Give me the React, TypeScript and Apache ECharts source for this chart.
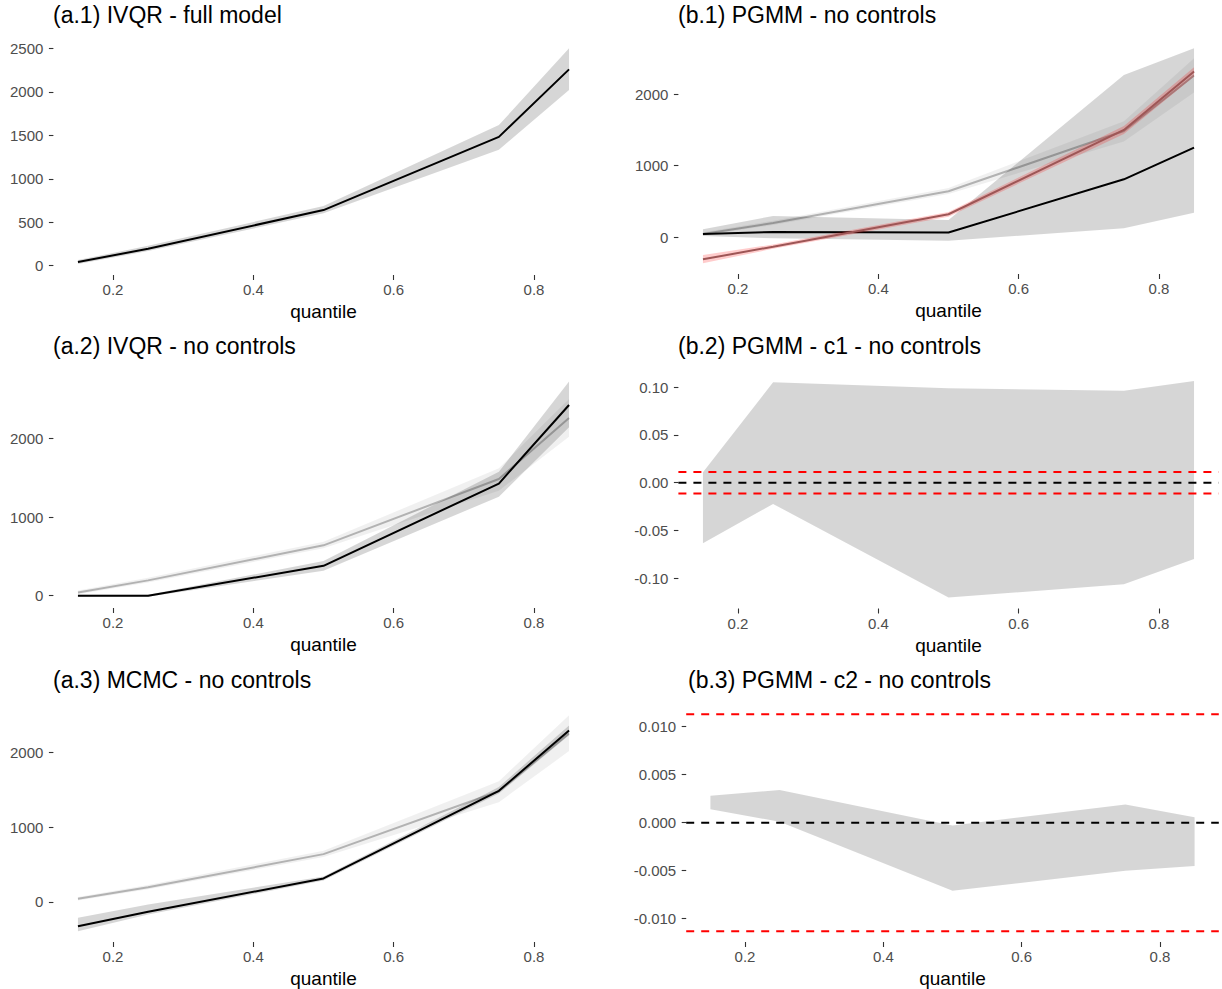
import React, { useEffect, useRef } from "react";
import * as echarts from "echarts";

// ---------------- data ----------------
const quantiles = [0.15, 0.25, 0.5, 0.75, 0.85];

// IVQR full model (also the grey reference in other panels)
const ivqrFullEst = [42, 195, 640, 1482, 2258];
const ivqrFullLo = [20, 168, 602, 1335, 2020];
const ivqrFullHi = [65, 228, 686, 1618, 2500];

// IVQR no controls
const ivqrNoCtrlEst = [0, 0, 380, 1425, 2423];
const ivqrNoCtrlLo = [-12, -12, 318, 1258, 2140];
const ivqrNoCtrlHi = [12, 12, 440, 1576, 2720];

// MCMC no controls
const mcmcEst = [-325, -133, 315, 1488, 2297];
const mcmcLo = [-392, -170, 288, 1453, 2231];
const mcmcHi = [-213, -36, 341, 1541, 2364];

// PGMM no controls
const pgmmEst = [42, 70, 62, 807, 1250];
const pgmmLo = [14, -18, -52, 122, 340];
const pgmmHi = [108, 294, 238, 2266, 2640];

// MCMC comparison shown in red in (b.1)
const redEst = [-312, -136, 318, 1498, 2314];
const redLo = [-368, -165, 284, 1442, 2244];
const redHi = [-252, -105, 350, 1554, 2375];

// PGMM c1 / c2 intervals
const c1Lo = [-0.0635, -0.0223, -0.1205, -0.1065, -0.08];
const c1Hi = [0.011, 0.1052, 0.0989, 0.0964, 0.1066];
const c2Lo = [0.0014, 0.0001, -0.0071, -0.005, -0.0045];
const c2Hi = [0.0028, 0.0034, -0.0003, 0.0019, 0.00056];

const zeroLine = 0;
const boundLines = [-0.0113, 0.0113];

// tick labels
const xTicks = [0.2, 0.4, 0.6, 0.8];
const yTicksA1 = [0, 500, 1000, 1500, 2000, 2500];
const yTicksK = [0, 1000, 2000];
const yTicksC1 = [-0.1, -0.05, 0, 0.05, 0.1];
const yTicksC2 = [-0.01, -0.005, 0, 0.005, 0.01];

const titles = [
  "(a.1) IVQR - full model",
  "(a.2) IVQR - no controls",
  "(a.3) MCMC - no controls",
  "(b.1) PGMM - no controls",
  "(b.2) PGMM - c1 - no controls",
  "(b.3) PGMM - c2 - no controls",
];

// ---------------- layout / style ----------------
const FONT = "'Liberation Sans', Arial, Helvetica, sans-serif";
const X_MIN = 0.115;
const X_MAX = 0.885;

const grids = [
  { left: 53.4, top: 38, width: 540.2, height: 237 },
  { left: 53.4, top: 370.9, width: 540.2, height: 237.1 },
  { left: 53.4, top: 702.9, width: 540.2, height: 239.6 },
  { left: 678.4, top: 37.6, width: 540.2, height: 236.4 },
  { left: 678.4, top: 370.2, width: 540.2, height: 238.3 },
  { left: 686.2, top: 703.4, width: 532.6, height: 238.6 },
];
const yRanges = [
  [-107, 2619],
  [-156, 2856],
  [-537, 2666],
  [-517.5, 2789],
  [-0.1319, 0.1179],
  [-0.012427, 0.012427],
];
const yTickSets = [yTicksA1, yTicksK, yTicksK, yTicksK, yTicksC1, yTicksC2];
const yDecimals = [0, 0, 0, 0, 2, 3];
const titlePos = [
  [53, 15],
  [53, 346],
  [53, 680],
  [678, 15],
  [678, 346],
  [688, 680],
];

const RIBBON = "rgba(0,0,0,0.16)";
const REF_RIBBON = "rgba(0,0,0,0.06)";
const REF_LINE = "rgba(0,0,0,0.26)";
const RED_RIBBON = "rgba(255,0,0,0.2)";
const RED_LINE = "#9e5656";

function ribbon(idx: number, lo: number[], hi: number[], color: string, z: number) {
  return {
    type: "custom",
    xAxisIndex: idx,
    yAxisIndex: idx,
    z,
    silent: true,
    data: quantiles.map((q, k) => [q, lo[k], hi[k]]),
    encode: { x: 0, y: [1, 2] },
    renderItem: (params: any, api: any) => {
      if (params.dataIndex !== 0) return null;
      const pts: number[][] = [];
      for (let k = 0; k < quantiles.length; k++) pts.push(api.coord([quantiles[k], hi[k]]));
      for (let k = quantiles.length - 1; k >= 0; k--) pts.push(api.coord([quantiles[k], lo[k]]));
      return { type: "polygon", shape: { points: pts }, style: { fill: color } };
    },
  };
}

function line(idx: number, ys: number[], color: string, z: number) {
  return {
    type: "line",
    xAxisIndex: idx,
    yAxisIndex: idx,
    z,
    silent: true,
    symbol: "none",
    data: quantiles.map((q, k) => [q, ys[k]]),
    lineStyle: { color, width: 2 },
  };
}

function hline(idx: number, v: number, color: string) {
  return {
    type: "line",
    xAxisIndex: idx,
    yAxisIndex: idx,
    z: 6,
    silent: true,
    symbol: "none",
    data: [
      [X_MIN, v],
      [X_MAX, v],
    ],
    lineStyle: { color, width: 2, type: [8, 7] },
  };
}

export default function App() {
  const ref = useRef<HTMLDivElement>(null);

  useEffect(() => {
    document.body.style.margin = "0";
    const chart = echarts.init(ref.current!, null, { renderer: "svg" });

    const xAxis = grids.map((_, i) => ({
      type: "value",
      gridIndex: i,
      position: "bottom",
      min: X_MIN,
      max: X_MAX,
      axisLine: { show: false, onZero: false },
      splitLine: { show: false },
      axisTick: {
        show: true,
        customValues: xTicks,
        length: 5,
        lineStyle: { color: "#333333", width: 1.1 },
      },
      axisLabel: {
        customValues: xTicks,
        formatter: (v: number) => v.toFixed(1),
        color: "#4D4D4D",
        fontSize: 15,
        fontFamily: FONT,
        margin: 7,
      },
      name: "quantile",
      nameLocation: "middle",
      nameGap: 27,
      nameTextStyle: { color: "#000", fontSize: 19, fontFamily: FONT },
    }));

    const yAxis = grids.map((_, i) => ({
      type: "value",
      gridIndex: i,
      position: "left",
      min: yRanges[i][0],
      max: yRanges[i][1],
      axisLine: { show: false, onZero: false },
      splitLine: { show: false },
      axisTick: {
        show: true,
        customValues: yTickSets[i],
        length: 4.5,
        lineStyle: { color: "#333333", width: 1.1 },
      },
      axisLabel: {
        customValues: yTickSets[i],
        formatter: (v: number) => v.toFixed(yDecimals[i]),
        color: "#4D4D4D",
        fontSize: 15,
        fontFamily: FONT,
        margin: 10,
      },
    }));

    const series: any[] = [
      // (a.1)
      ribbon(0, ivqrFullLo, ivqrFullHi, RIBBON, 1),
      line(0, ivqrFullEst, "#000", 3),
      // (a.2)
      ribbon(1, ivqrFullLo, ivqrFullHi, REF_RIBBON, 1),
      line(1, ivqrFullEst, REF_LINE, 2),
      ribbon(1, ivqrNoCtrlLo, ivqrNoCtrlHi, RIBBON, 3),
      line(1, ivqrNoCtrlEst, "#000", 4),
      // (a.3)
      ribbon(2, ivqrFullLo, ivqrFullHi, REF_RIBBON, 1),
      line(2, ivqrFullEst, REF_LINE, 2),
      ribbon(2, mcmcLo, mcmcHi, RIBBON, 3),
      line(2, mcmcEst, "#000", 4),
      // (b.1)
      ribbon(3, ivqrFullLo, ivqrFullHi, REF_RIBBON, 1),
      line(3, ivqrFullEst, REF_LINE, 2),
      ribbon(3, pgmmLo, pgmmHi, RIBBON, 3),
      line(3, pgmmEst, "#000", 4),
      ribbon(3, redLo, redHi, RED_RIBBON, 5),
      line(3, redEst, RED_LINE, 6),
      // (b.2)
      ribbon(4, c1Lo, c1Hi, RIBBON, 1),
      hline(4, zeroLine, "#000"),
      hline(4, boundLines[0], "#FF0000"),
      hline(4, boundLines[1], "#FF0000"),
      // (b.3)
      ribbon(5, c2Lo, c2Hi, RIBBON, 1),
      hline(5, zeroLine, "#000"),
      hline(5, boundLines[0], "#FF0000"),
      hline(5, boundLines[1], "#FF0000"),
    ];

    const graphic = titles.map((t, i) => ({
      type: "text",
      x: titlePos[i][0],
      y: titlePos[i][1],
      silent: true,
      style: {
        text: t,
        fill: "#000",
        fontSize: 23,
        fontFamily: FONT,
        align: "left",
        verticalAlign: "middle",
      },
    }));

    chart.setOption({
      animation: false,
      backgroundColor: "#fff",
      grid: grids,
      xAxis,
      yAxis,
      series,
      graphic,
    });

    return () => chart.dispose();
  }, []);

  return <div ref={ref} style={{ width: 1222, height: 989 }} />;
}
